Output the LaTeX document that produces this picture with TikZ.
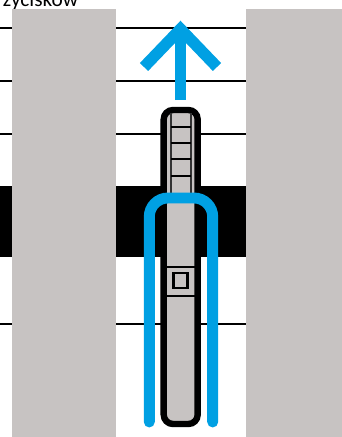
\documentclass[tikz,border=0pt]{standalone}
\usepackage{fontspec}
\setmainfont{Carlito}
\usetikzlibrary{arrows.meta,positioning}
\definecolor{wallgray}{RGB}{199,195,194}
\definecolor{skyblue}{RGB}{0,160,227}
\begin{document}
\begin{tikzpicture}[x=0.75pt, y=-0.75pt, font=\small,
  wall/.style={fill=wallgray},
  rung/.style={line width=1.6pt},
  blueline/.style={line width=8.2pt, skyblue}]
\useasboundingbox (0,0) rectangle (342,437);
\node[anchor=base west, font=\fontsize{16}{16}\selectfont, inner sep=0pt] (caption) at (2.5,6) {życisków};
\foreach \y in {28,81,134,324}{
  \draw[line width=1.5pt] (0,\y) -- (342,\y);
}
\fill (0,186) rectangle (342,257);
\fill[wall] (12,9) rectangle (116,437);
\fill[wall] (246,9) rectangle (342,437);
% arrow
\draw[line width=8.6pt, skyblue] (180.5,100) -- (180.5,32);
\draw[line width=8.6pt, skyblue, miter limit=10] (144,67) -- (180.5,29) -- (217,67);
% carrier
\draw[line width=4.8pt, fill=wallgray, rounded corners=7pt] (163.7,110) rectangle (197.7,424);
\foreach \x in {171,191}{
  \draw[line width=1.2pt, black!80] (\x,113) -- (\x,193);
}
\foreach \y in {127,143,159,176}{
  \draw[rung] (171,\y) -- (191,\y);
}
\draw[line width=1.2pt] (166,267) -- (195,267);
\draw[line width=1.2pt] (166,296) -- (195,296);
\draw[rung] (173.5,273) rectangle (187.5,288);
% hoop
\draw[blueline, line cap=round, rounded corners=14pt] (149.3,422) -- (149.3,198) -- (212.7,198) -- (212.7,422);
\end{tikzpicture}
\end{document}
